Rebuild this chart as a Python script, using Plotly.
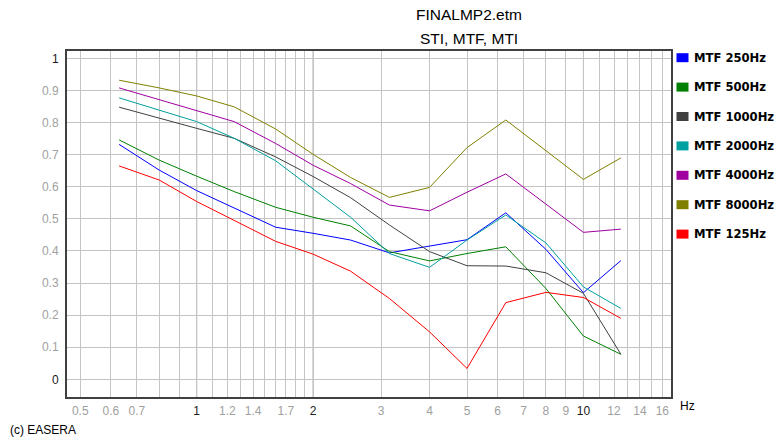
import math
import plotly.graph_objects as go

# ---------------- data ----------------
freqs = [0.63, 0.8, 1, 1.25, 1.6, 2, 2.5, 3.15, 4, 5, 6.3, 8, 10, 12.5]

mtf_250 = [0.732, 0.652, 0.588, 0.533, 0.474, 0.455, 0.434, 0.394, 0.416, 0.435, 0.519, 0.405, 0.270, 0.370]
mtf_500 = [0.746, 0.683, 0.633, 0.585, 0.536, 0.505, 0.478, 0.398, 0.369, 0.392, 0.413, 0.283, 0.135, 0.078]
mtf_1000 = [0.848, 0.813, 0.782, 0.751, 0.693, 0.632, 0.566, 0.481, 0.398, 0.354, 0.353, 0.332, 0.268, 0.078]
mtf_2000 = [0.877, 0.838, 0.803, 0.751, 0.681, 0.593, 0.505, 0.392, 0.349, 0.434, 0.512, 0.425, 0.288, 0.221]
mtf_4000 = [0.908, 0.872, 0.839, 0.803, 0.735, 0.667, 0.610, 0.543, 0.525, 0.583, 0.640, 0.545, 0.458, 0.468]
mtf_8000 = [0.932, 0.908, 0.883, 0.849, 0.780, 0.701, 0.629, 0.567, 0.598, 0.722, 0.808, 0.711, 0.623, 0.690]
mtf_125 = [0.665, 0.621, 0.554, 0.496, 0.430, 0.390, 0.337, 0.252, 0.148, 0.034, 0.239, 0.271, 0.255, 0.190]

series_names = ["MTF 250Hz", "MTF 500Hz", "MTF 1000Hz", "MTF 2000Hz",
                "MTF 4000Hz", "MTF 8000Hz", "MTF 125Hz"]
series_values = [mtf_250, mtf_500, mtf_1000, mtf_2000, mtf_4000, mtf_8000, mtf_125]
series_colors = ["#0000ff", "#008000", "#404040", "#00a0a0",
                 "#a000a0", "#808000", "#ff0000"]

x_label_vals = [0.5, 0.6, 0.7, 1, 1.2, 1.4, 1.7, 2, 3, 4, 5, 6, 7, 8, 9, 10, 12, 14, 16]
x_dark_labels = [1, 2, 10]
x_grid_vals = ([round(0.5 + 0.1 * i, 1) for i in range(16)] +
               list(range(3, 11)) + list(range(11, 17)))
y_tick_vals = [round(0.1 * i, 1) for i in range(11)]

title_lines = ["FINALMP2.etm", "STI, MTF, MTI"]
copyright_text = "(c) EASERA"
unit_text = "Hz"

# ---------------- layout geometry ----------------
W, H = 776, 440
L, R, T, B = 67, 671, 51, 397
XR = [-0.3354, 1.2265]
YR = [-0.055, 1.023]

GRAY_TXT = "#a0a0a0"
DARK_TXT = "#202020"


def px_x(px):
    return (px - L) / (R - L)


def px_y(py):
    return (B - py) / (B - T)


def fmt(v):
    return "%g" % v


fig = go.Figure()

for name, vals, col in zip(series_names, series_values, series_colors):
    fig.add_trace(go.Scatter(x=freqs, y=vals, mode="lines", name=name,
                             line=dict(color=col, width=1), showlegend=False))

xtext = []
for v in x_grid_vals:
    if any(abs(v - lv) < 1e-9 for lv in x_label_vals):
        t = fmt(v)
        if any(abs(v - d) < 1e-9 for d in x_dark_labels):
            t = "<span style='color:%s'>%s</span>" % (DARK_TXT, t)
        xtext.append(t)
    else:
        xtext.append("")

ytext = []
for v in y_tick_vals:
    t = fmt(v)
    if v in (0, 1):
        t = "<span style='color:%s'>%s</span>" % (DARK_TXT, t)
    ytext.append(t)

fig.update_layout(
    width=W, height=H,
    margin=dict(l=L, r=W - R, t=T, b=H - B, pad=0, autoexpand=False),
    paper_bgcolor="white", plot_bgcolor="white",
    font=dict(family="Liberation Sans, Arial, sans-serif", size=12, color=GRAY_TXT),
    xaxis=dict(type="log", range=XR, tickmode="array", tickvals=x_grid_vals,
               ticktext=xtext, showgrid=True, gridcolor="#c4c4c4", gridwidth=1,
               ticks="", showline=True, linecolor="#404040", linewidth=2,
               mirror=True, zeroline=False, fixedrange=True, automargin=False,
               tickfont=dict(size=12, color=GRAY_TXT), ticklabelstandoff=2),
    yaxis=dict(range=YR, tickmode="array", tickvals=y_tick_vals, ticktext=ytext,
               showgrid=True, gridcolor="#c4c4c4", gridwidth=1, ticks="",
               showline=True, linecolor="#404040", linewidth=2, mirror=True,
               zeroline=False, fixedrange=True, automargin=False,
               tickfont=dict(size=12, color=GRAY_TXT), ticklabelstandoff=4),
)

for v in x_dark_labels:
    xf = (math.log10(v) - XR[0]) / (XR[1] - XR[0])
    fig.add_shape(type="line", xref="paper", yref="paper", x0=xf, x1=xf, y0=0, y1=1,
                  line=dict(color="#9a9a9a", width=1), layer="below")

for txt, yy in zip(title_lines, [15, 38]):
    fig.add_annotation(text=txt, xref="paper", yref="paper",
                       x=px_x(469), y=px_y(yy), showarrow=False,
                       xanchor="center", yanchor="middle",
                       font=dict(size=15.5, color="#000000"))

for i, (name, col) in enumerate(zip(series_names, series_colors)):
    cy = 57.7 + i * 29.4
    fig.add_shape(type="rect", xref="paper", yref="paper",
                  x0=px_x(676.5), x1=px_x(688.5), y0=px_y(cy - 4.5), y1=px_y(cy + 4.5),
                  fillcolor=col, line=dict(width=0))
    fig.add_annotation(text="<b>%s</b>" % name, xref="paper", yref="paper",
                       x=px_x(692), y=px_y(cy), showarrow=False,
                       xanchor="left", yanchor="middle",
                       font=dict(family="DejaVu Sans, sans-serif", size=11.6, color="#000000"))

fig.add_annotation(text=unit_text, xref="paper", yref="paper",
                   x=px_x(678), y=px_y(406), showarrow=False,
                   xanchor="left", yanchor="middle",
                   font=dict(size=12, color="#000000"))

fig.add_annotation(text=copyright_text, xref="paper", yref="paper",
                   x=px_x(8), y=px_y(430), showarrow=False,
                   xanchor="left", yanchor="middle",
                   font=dict(size=12, color="#000000"))

fig.write_html("out.html", config={"displayModeBar": False, "staticPlot": True})

# remove default page margin so the figure sits at the window's top-left corner
with open("out.html", "r", encoding="utf-8") as f:
    html = f.read()
html = html.replace("<head>", "<head><style>html,body{margin:0;padding:0;overflow:hidden;}</style>", 1)
with open("out.html", "w", encoding="utf-8") as f:
    f.write(html)
